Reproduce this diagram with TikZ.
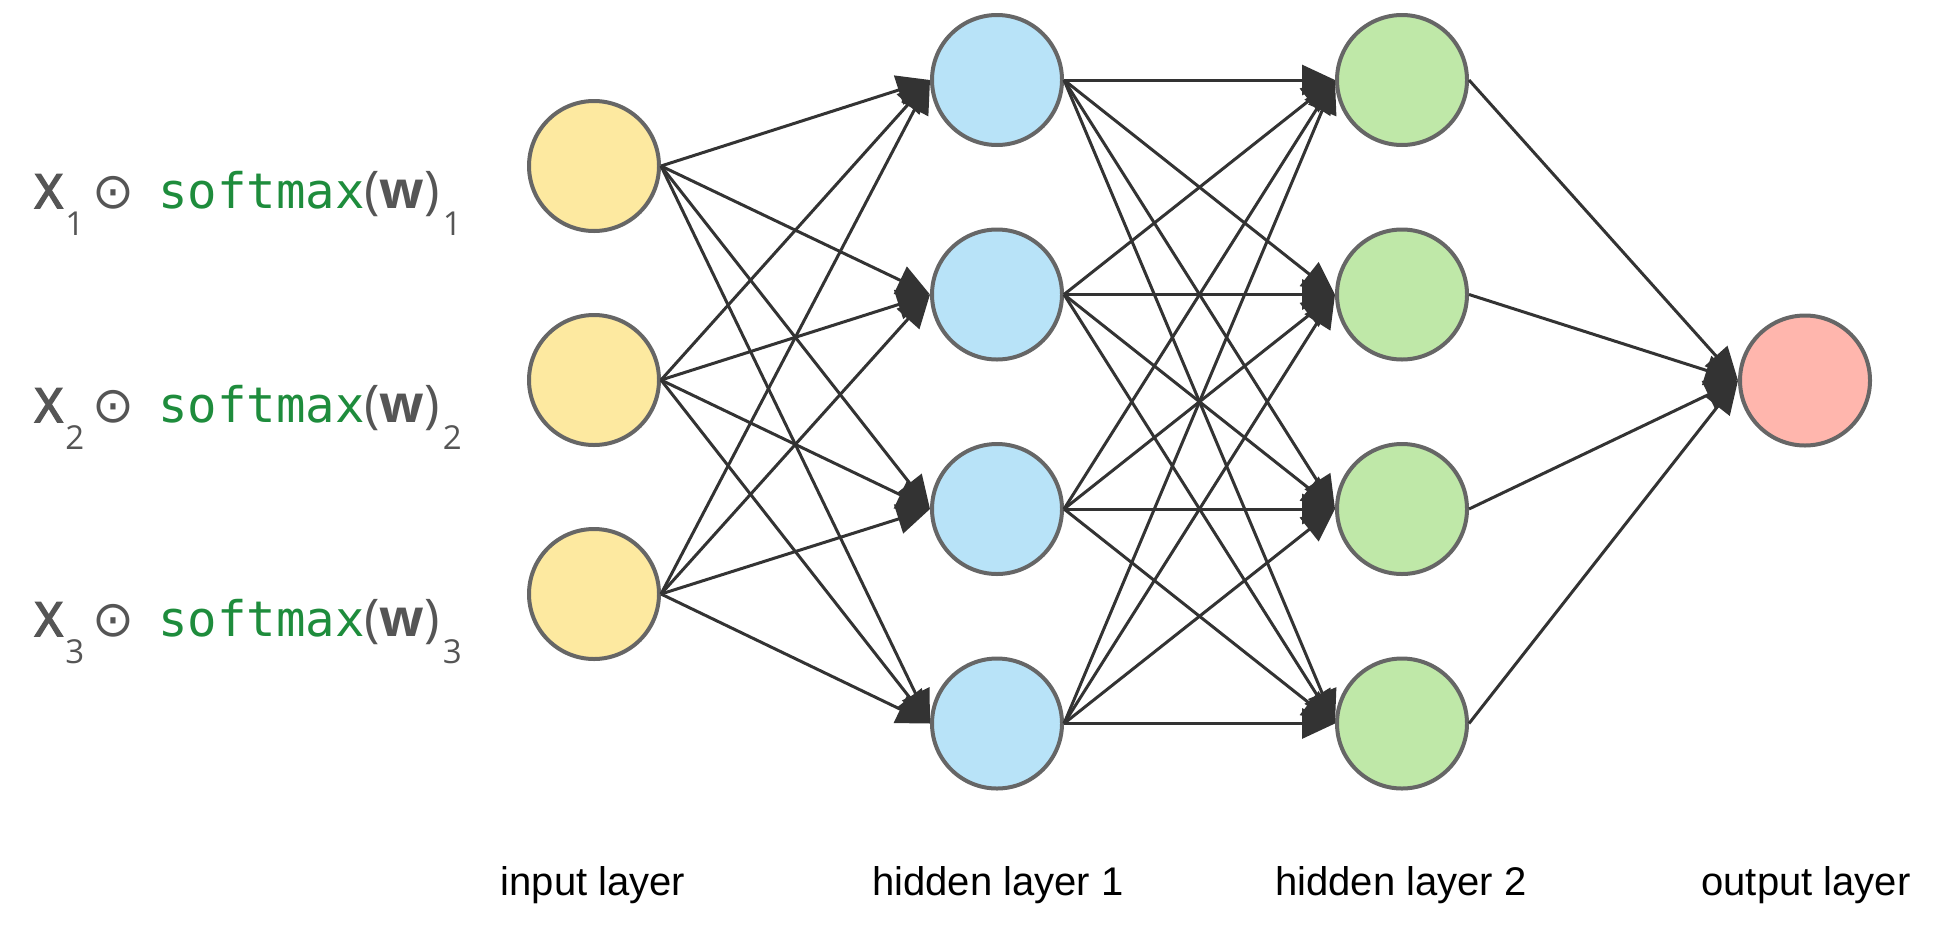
\documentclass[tikz,border=0pt]{standalone}
\usepackage{fontspec}
\usepackage{tikz}
\usetikzlibrary{arrows.meta,positioning}
\setmainfont{Liberation Sans}
\newfontfamily\xfont{Open Sans}[FakeBold=4]
\newfontfamily\parfont{Open Sans}
\newfontfamily\codefont{DejaVu Sans Mono}
\newfontfamily\symfont{DejaVu Sans}
\definecolor{inyellow}{HTML}{FDE9A0}
\definecolor{hidblue}{HTML}{B8E3F8}
\definecolor{hidgreen}{HTML}{BFE8A8}
\definecolor{outpink}{HTML}{FFB6AD}
\definecolor{rimgray}{HTML}{666666}
\definecolor{edgegray}{HTML}{333333}
\definecolor{txtgray}{HTML}{555555}
\definecolor{smgreen}{HTML}{1E8C3C}
\newcommand{\subdigit}[1]{\hspace{3pt}\raisebox{-27pt}{\parfont\fontsize{33}{33}\selectfont #1}}
\newcommand{\wlabel}[1]{\color{txtgray}{\xfont X}\subdigit{#1}\hspace{8pt}{\symfont\fontsize{50}{50}\selectfont ⊙}\hspace{24pt}{\codefont\fontsize{49}{50}\selectfont\color{smgreen}softmax}{\parfont\fontsize{52}{52}\selectfont(\textbf{w})}\subdigit{#1}}

\begin{document}
\begin{tikzpicture}[x=1pt,y=-1pt,
  neuron/.style={circle,draw=rimgray,line width=4pt,minimum size=130pt,inner sep=0pt},
  wire/.style={draw=edgegray,line width=3pt,-{Triangle[length=33pt,width=30pt]}},
  layername/.style={anchor=base,font=\fontsize{40}{42}\selectfont}]
\useasboundingbox (0,0) rectangle (1934,932);
% input layer
\node[neuron,fill=inyellow] (in1) at (594,166) {};
\node[neuron,fill=inyellow] (in2) at (594,380) {};
\node[neuron,fill=inyellow] (in3) at (594,594) {};
% hidden layer 1
\node[neuron,fill=hidblue] (ha1) at (997,80) {};
\node[neuron,fill=hidblue] (ha2) at (997,294.5) {};
\node[neuron,fill=hidblue] (ha3) at (997,509) {};
\node[neuron,fill=hidblue] (ha4) at (997,723.5) {};
% hidden layer 2
\node[neuron,fill=hidgreen] (hb1) at (1402,80) {};
\node[neuron,fill=hidgreen] (hb2) at (1402,294.5) {};
\node[neuron,fill=hidgreen] (hb3) at (1402,509) {};
\node[neuron,fill=hidgreen] (hb4) at (1402,723.5) {};
% output layer
\node[neuron,fill=outpink] (out) at (1805,380.5) {};

% input -> hidden 1
\draw[wire] (in1.east) -- (ha1.west);
\draw[wire] (in1.east) -- (ha2.west);
\draw[wire] (in1.east) -- (ha3.west);
\draw[wire] (in1.east) -- (ha4.west);
\draw[wire] (in2.east) -- (ha1.west);
\draw[wire] (in2.east) -- (ha2.west);
\draw[wire] (in2.east) -- (ha3.west);
\draw[wire] (in2.east) -- (ha4.west);
\draw[wire] (in3.east) -- (ha1.west);
\draw[wire] (in3.east) -- (ha2.west);
\draw[wire] (in3.east) -- (ha3.west);
\draw[wire] (in3.east) -- (ha4.west);
% hidden 1 -> hidden 2
\draw[wire] (ha1.east) -- (hb1.west);
\draw[wire] (ha1.east) -- (hb2.west);
\draw[wire] (ha1.east) -- (hb3.west);
\draw[wire] (ha1.east) -- (hb4.west);
\draw[wire] (ha2.east) -- (hb1.west);
\draw[wire] (ha2.east) -- (hb2.west);
\draw[wire] (ha2.east) -- (hb3.west);
\draw[wire] (ha2.east) -- (hb4.west);
\draw[wire] (ha3.east) -- (hb1.west);
\draw[wire] (ha3.east) -- (hb2.west);
\draw[wire] (ha3.east) -- (hb3.west);
\draw[wire] (ha3.east) -- (hb4.west);
\draw[wire] (ha4.east) -- (hb1.west);
\draw[wire] (ha4.east) -- (hb2.west);
\draw[wire] (ha4.east) -- (hb3.west);
\draw[wire] (ha4.east) -- (hb4.west);
% hidden 2 -> output
\draw[wire] (hb1.east) -- (out.west);
\draw[wire] (hb2.east) -- (out.west);
\draw[wire] (hb3.east) -- (out.west);
\draw[wire] (hb4.east) -- (out.west);

% weighted inputs
\node[anchor=base west,inner sep=0pt,font=\fontsize{47}{50}\selectfont] (x1) at (35,208) {\wlabel{1}};
\node[anchor=base west,inner sep=0pt,font=\fontsize{47}{50}\selectfont] (x2) at (35,422) {\wlabel{2}};
\node[anchor=base west,inner sep=0pt,font=\fontsize{47}{50}\selectfont] (x3) at (35,636) {\wlabel{3}};

% layer names
\node[layername] (nin) at (593,895) {input layer};
\node[layername] (nha) at (998,895) {hidden layer 1};
\node[layername] (nhb) at (1401,895) {hidden layer 2};
\node[layername] (nout) at (1806,895) {output layer};
\end{tikzpicture}
\end{document}
